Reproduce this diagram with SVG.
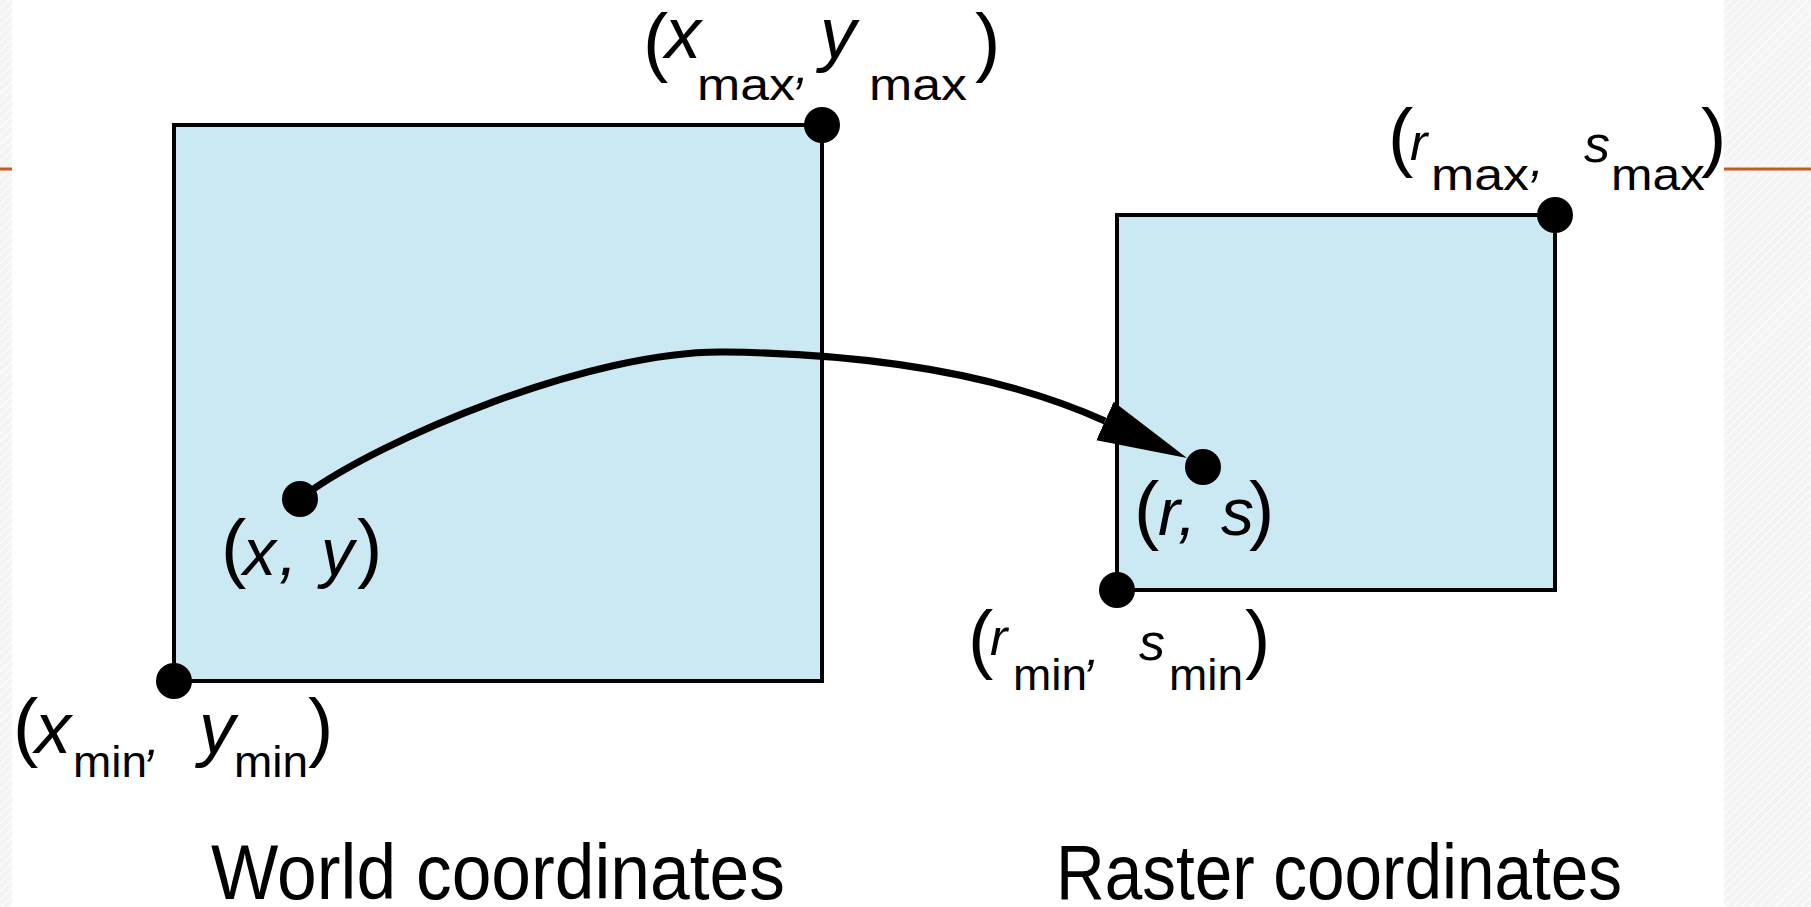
<svg xmlns="http://www.w3.org/2000/svg" width="1811" height="907" viewBox="0 0 1811 907">
  <style>
    text { font-family: "Liberation Sans", Arial, sans-serif; fill: #000; }
    .par { font-size: 76px; }
    .big { font-size: 72px; font-style: italic; }
    .mid { font-size: 66px; font-style: italic; }
    .sm { font-size: 52px; font-style: italic; }
    .sub { font-size: 44px; }
    .cm { font-size: 50px; font-style: italic; }
    .cap { font-size: 77px; }
    .box { fill: #cbe9f2; stroke: #000; stroke-width: 4; }
    .dot { fill: #000; }
    .edge { fill: none; stroke: #000; stroke-width: 7; }
    .accent { stroke: #c55a24; stroke-width: 3; }
  </style>
  <defs>
    <pattern id="hatch" width="6" height="6" patternUnits="userSpaceOnUse" patternTransform="rotate(45)">
      <rect width="6" height="6" fill="#f4f4f4"/>
      <line x1="0" y1="0" x2="0" y2="6" stroke="#ffffff" stroke-width="2"/>
    </pattern>
    <marker id="arrow" markerUnits="userSpaceOnUse" markerWidth="96" markerHeight="50" viewBox="0 -25 96 50" refX="0" refY="0" orient="auto">
      <polygon points="0,-21 90,0 0,21" fill="#000"/>
    </marker>
  </defs>

  <rect width="1811" height="907" fill="#ffffff"/>
  <rect x="0" y="0" width="12" height="907" fill="url(#hatch)"/>
  <rect x="1724" y="0" width="87" height="907" fill="url(#hatch)"/>
  <line class="accent" x1="0" y1="169" x2="12" y2="169"/>
  <line class="accent" x1="1724" y1="169" x2="1811" y2="169"/>

  <g id="world-window">
    <rect class="box" x="174" y="125" width="648" height="556"/>
  </g>
  <g id="raster-window">
    <rect class="box" x="1117" y="215" width="438" height="375"/>
  </g>

  <g id="connectors">
    <path class="edge" d="M305,495 C380,440 590,350 725,352 C885,354 1010,378 1105,421" marker-end="url(#arrow)"/>
  </g>

  <g id="pt-xmax-ymax">
    <circle class="dot" cx="822" cy="125" r="18"/>
    <text class="par" x="643" y="67">(</text>
    <text class="big" x="665" y="58">x</text>
    <text class="sub" x="697" y="100" textLength="98" lengthAdjust="spacingAndGlyphs">max</text>
    <text class="cm" x="795" y="83">,</text>
    <text class="big" x="820" y="58">y</text>
    <text class="sub" x="869" y="100" textLength="98" lengthAdjust="spacingAndGlyphs">max</text>
    <text class="par" x="975" y="67">)</text>
  </g>

  <g id="pt-rmax-smax">
    <circle class="dot" cx="1555" cy="215" r="18"/>
    <text class="par" x="1388" y="162">(</text>
    <text class="sm" x="1410" y="160">r</text>
    <text class="sub" x="1431" y="190" textLength="98" lengthAdjust="spacingAndGlyphs">max</text>
    <text class="cm" x="1530" y="176">,</text>
    <text class="sm" x="1584" y="162">s</text>
    <text class="sub" x="1611" y="190" textLength="94" lengthAdjust="spacingAndGlyphs">max</text>
    <text class="par" x="1701" y="162">)</text>
  </g>

  <g id="pt-xmin-ymin">
    <circle class="dot" cx="174" cy="681" r="18"/>
    <text class="par" x="13" y="752">(</text>
    <text class="big" x="35" y="753">x</text>
    <text class="sub" x="73" y="777" textLength="74" lengthAdjust="spacingAndGlyphs">min</text>
    <text class="cm" x="146" y="755">,</text>
    <text class="big" x="199" y="753">y</text>
    <text class="sub" x="234" y="777" textLength="74" lengthAdjust="spacingAndGlyphs">min</text>
    <text class="par" x="308" y="752">)</text>
  </g>

  <g id="pt-x-y">
    <circle class="dot" cx="300" cy="499" r="18"/>
    <text class="par" x="221" y="573">(</text>
    <text class="mid" x="243" y="575">x</text>
    <text class="mid" x="279" y="575">,</text>
    <text class="mid" x="321" y="575">y</text>
    <text class="par" x="357" y="573">)</text>
  </g>

  <g id="pt-r-s">
    <circle class="dot" cx="1203" cy="467" r="18"/>
    <text class="par" x="1134" y="535">(</text>
    <text class="mid" x="1158" y="535">r</text>
    <text class="mid" x="1178" y="535">,</text>
    <text class="mid" x="1221" y="535">s</text>
    <text class="par" x="1249" y="535">)</text>
  </g>

  <g id="pt-rmin-smin">
    <circle class="dot" cx="1117" cy="590" r="18"/>
    <text class="par" x="968" y="664">(</text>
    <text class="sm" x="990" y="655">r</text>
    <text class="sub" x="1013" y="690" textLength="74" lengthAdjust="spacingAndGlyphs">min</text>
    <text class="cm" x="1086" y="665">,</text>
    <text class="sm" x="1139" y="660">s</text>
    <text class="sub" x="1169" y="690" textLength="74" lengthAdjust="spacingAndGlyphs">min</text>
    <text class="par" x="1245" y="664">)</text>
  </g>

  <g id="captions">
    <text class="cap" x="211" y="899" textLength="574" lengthAdjust="spacingAndGlyphs">World coordinates</text>
    <text class="cap" x="1056" y="899" textLength="566" lengthAdjust="spacingAndGlyphs">Raster coordinates</text>
  </g>
</svg>
